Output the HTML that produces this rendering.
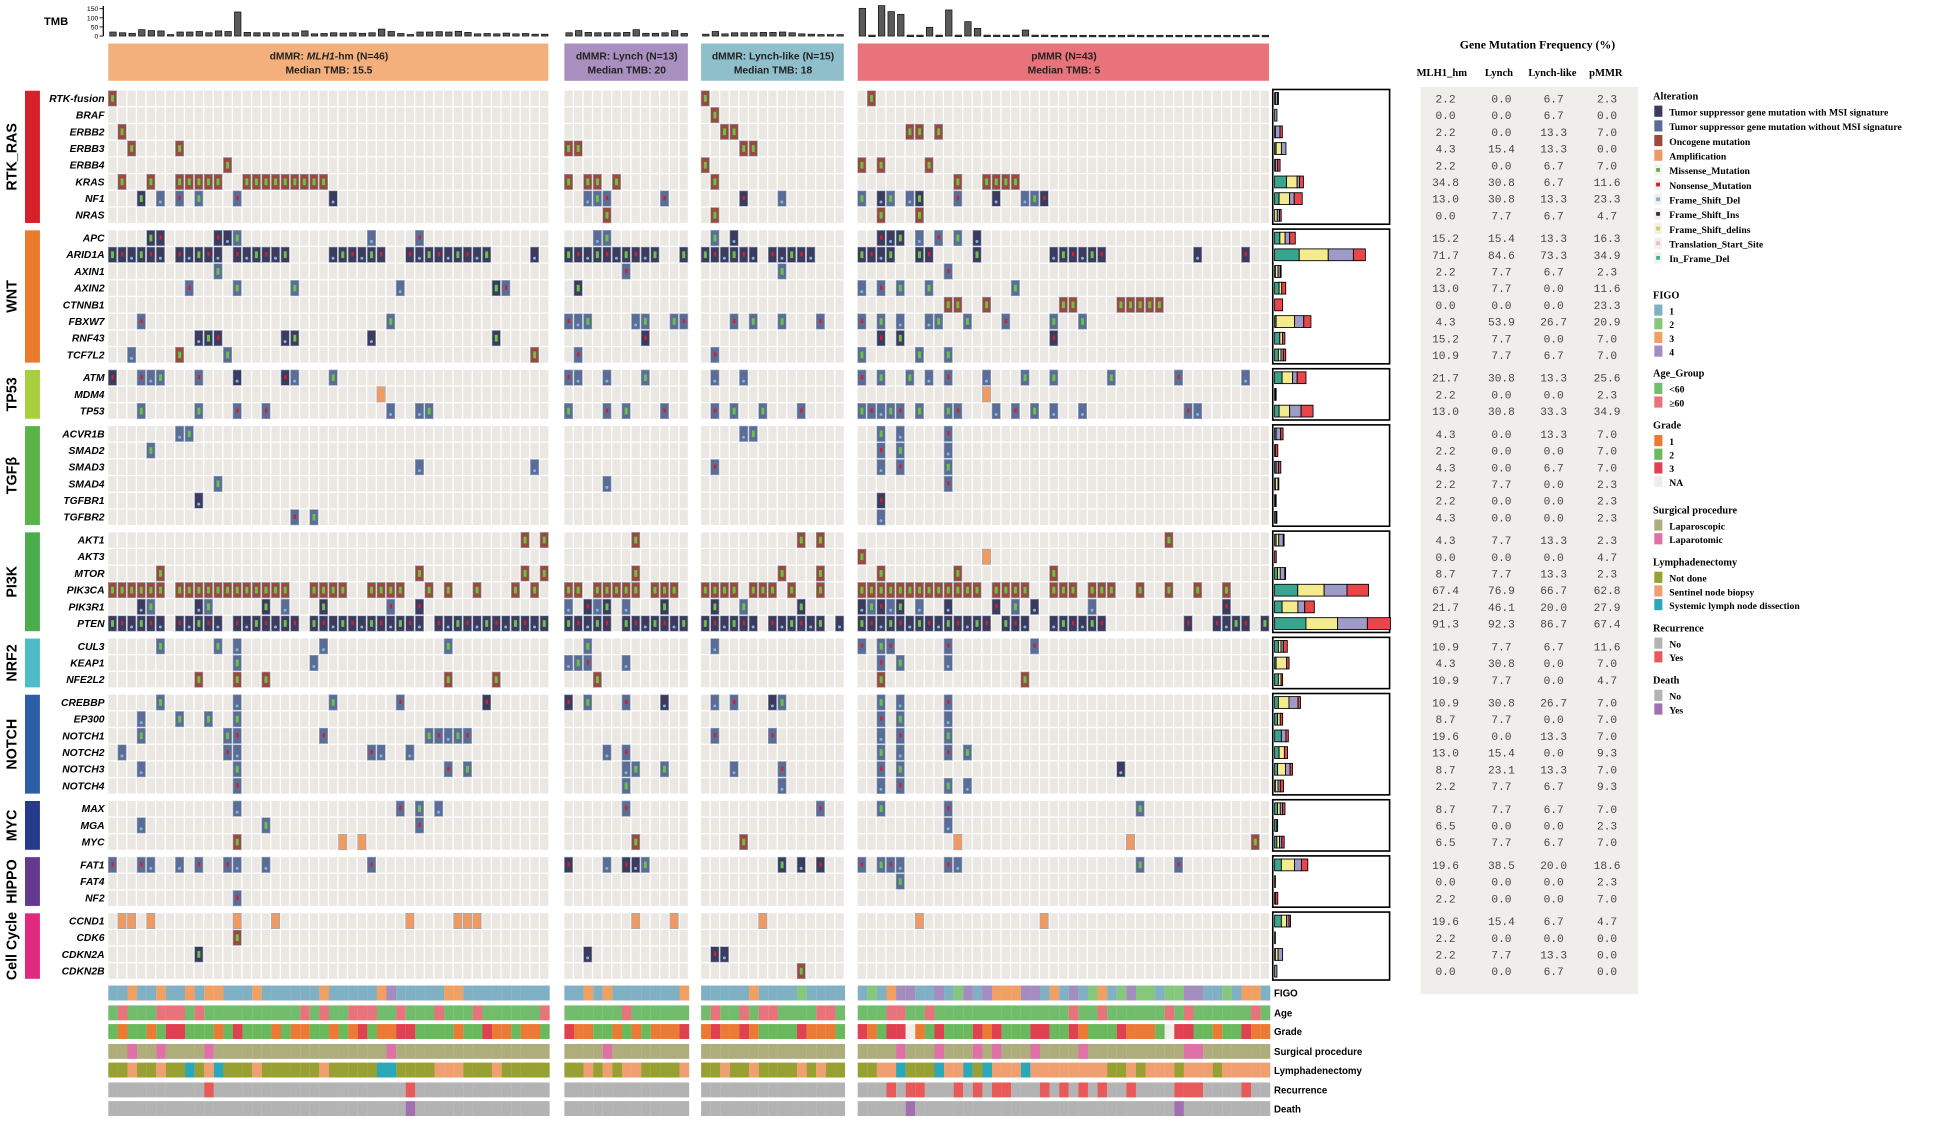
<!DOCTYPE html>
<html><head><meta charset="utf-8"><style>
html,body{margin:0;padding:0;background:#fff;}
svg{display:block;}
text{font-family:"Liberation Sans",sans-serif;}
.ser{font-family:"Liberation Serif",serif;font-weight:bold;}
.mono{font-family:"Liberation Mono",monospace;}
</style></head><body>
<svg id="chart" width="1949" height="1121" viewBox="0 0 1568 902" xmlns="http://www.w3.org/2000/svg"></svg>
<script>
// ---------- DATA ----------
const cohortNames=["dMMR: MLH1-hm (N=46)","dMMR: Lynch (N=13)","dMMR: Lynch-like (N=15)","pMMR (N=43)"];
const cohortMedians=["Median TMB: 15.5","Median TMB: 20","Median TMB: 18","Median TMB: 5"];
const cohortSizes=[46,13,15,43];
const tmbMLH1=[22,18,15,35,30,28,8,22,22,25,18,28,25,132,20,18,18,18,16,18,28,12,14,18,16,18,15,18,38,25,14,8,22,22,24,22,26,20,12,14,12,16,12,14,10,10];
const tmbLynch=[18,30,20,18,18,18,20,35,15,15,18,30,14];
const tmbLynchLike=[10,25,12,18,18,18,20,20,22,18,12,10,8,8,8];
const tmbPMMR=[152,5,167,134,119,5,5,48,5,143,5,79,42,5,5,5,5,33,5,5,4,4,4,4,4,4,4,4,5,4,4,4,4,4,4,4,4,4,4,4,4,5,4];
const tmbTicks=[0,50,100,150];
const pathwayNames=["RTK_RAS","WNT","TP53","TGFβ","PI3K","NRF2","NOTCH","MYC","HIPPO","Cell Cycle"];
const pathwaySizes=[8,8,3,6,6,3,6,3,3,4];
const genes=["RTK-fusion","BRAF","ERBB2","ERBB3","ERBB4","KRAS","NF1","NRAS","APC","ARID1A","AXIN1","AXIN2","CTNNB1","FBXW7","RNF43","TCF7L2","ATM","MDM4","TP53","ACVR1B","SMAD2","SMAD3","SMAD4","TGFBR1","TGFBR2","AKT1","AKT3","MTOR","PIK3CA","PIK3R1","PTEN","CUL3","KEAP1","NFE2L2","CREBBP","EP300","NOTCH1","NOTCH2","NOTCH3","NOTCH4","MAX","MGA","MYC","FAT1","FAT4","NF2","CCND1","CDK6","CDKN2A","CDKN2B"];
const geneTypes="oooooododdllolllladllllldlooodddlooldllllllooldlldlao".split("");
const geneDefaultTypes=["o","o","o","o","o","o","d","o","d","d","l","l","o","l","d","l","l","a","l","l","l","l","l","d","l","o","o","o","o","d","d","l","l","o","l","l","l","l","l","l","l","l","o","l","l","l","a","o","d","o"];
const mutations=[
["0","","0","1"],["","","1",""],["1","","2 3","5 6 8"],["2 7","0 1","4 5",""],["12","","0","0 2 7"],
["1 4 7-11 14-22","0 2 3 5","1","10 13-16"],
["3 5l 7l 9l 13l 23","2l 3l 4l 10l","4 8l","0l 2 3l 5l 6 10l 14 17l 18l 19"],
["","4","1","2 6"],
["4 5 11 12 13l 27l 32l","3l 4l","1l 3","2 3 4 6l 8l 10l 12"],
["0-5 7-11 13-18 23-28 31-39 44","0-9 12","0-5 7-11","0-3 6 7 12 20-25 35 40"],
["11","6","8","9"],["8 13 19 30 40d 41","1d","","0 2 4 7 16"],["","","","9 10 13 21 22 27-31"],
["3 29","0-2 7 8 11 12","3 5 8 12","0 2 4 7 8 11 15 20 23"],
["9 10 11 18 19 27 40","8","","2 4 20"],["2 7o 12 44o","1","1","0 6 9"],
["0d 3 4 5 9 13d 18d 19 23","0 1 4 8","1 4","0 2 5 7 9 13 17 20 26 33 40"],
["28","","","13"],["3 9 13 16 29 32 33","0 4 6 10","1 3 6 10","0-4 6 9 10 14 16 18 20 23 34 35"],
["7 8","","4 5","2 4 9"],["4","","","2 4 9"],["32 44","","1","2 4 9"],["11","4","","9"],["9","","","2"],["19 21","","","2"],
["43 45","7","10 12","32"],["","","","0 13a"],["5 32 43 45","7","8 12","2 10 20"],
["0-5 7-18 21-24 27-30 33 35 38 42 44","0 1 3-7 9-11","0-3 5-7 9 12","0-12 14-17 20-22 24-26 29 32 35 38"],
["3 4l 9 10l 16 18l 22 29l 32","0l 2 3l 4 6l 10","1 4l 10","0 1l 2 3l 4 6l 9 14 16l 18 24l 38"],
["0-5 7-11 13-19 21-32 34-45","0-4 6-12","0-5 7-12 14","0-13 15-17 20-25 34 37-40 42"],
["5 11 13 22 35","2","1","0 2 3 9 18"],["13 21","0 1 2 6","","2 4 9"],["9 13 16 35 40","3","","2 17"],
["5 13 23 30 39d","0d 2 6 10d","1 3 7d 8","2 4 9"],["3 7 10 13","","","2 4 9"],["3 12 13 22 33-37","","1 7","2 4 9"],
["1 12 13 27 28 31","4 6","","2 4 9 11"],["3 13 35 37","6 7 10","3 8","2 4 27d"],["13","6","8","2 4 9 11"],
["13 30 32 34","6","12","2 9 29"],["3 16 32","","","9"],["13 24a 26a","7","4","10a 28a 41"],
["0 3 4 7 9 12 13 16 27","0d 4 6d 7d 8","8d 10d 12d","0 2 3 4 9 10 29 33"],["","","","4"],["13","","",""],
["1 2 4 13 17 31 36 37 38","7 11","6","6 19"],["13","","",""],["9","2","1 2",""],["","","10",""]
];
const freqMLH1=[2.2,0.0,2.2,4.3,2.2,34.8,13.0,0.0,15.2,71.7,2.2,13.0,0.0,4.3,15.2,10.9,21.7,2.2,13.0,4.3,2.2,4.3,2.2,2.2,4.3,4.3,0.0,8.7,67.4,21.7,91.3,10.9,4.3,10.9,10.9,8.7,19.6,13.0,8.7,2.2,8.7,6.5,6.5,19.6,0.0,2.2,19.6,2.2,2.2,0.0];
const freqLynch=[0.0,0.0,0.0,15.4,0.0,30.8,30.8,7.7,15.4,84.6,7.7,7.7,0.0,53.9,7.7,7.7,30.8,0.0,30.8,0.0,0.0,0.0,7.7,0.0,0.0,7.7,0.0,7.7,76.9,46.1,92.3,7.7,30.8,7.7,30.8,7.7,0.0,15.4,23.1,7.7,7.7,0.0,7.7,38.5,0.0,0.0,15.4,0.0,7.7,0.0];
const freqLynchLike=[6.7,6.7,13.3,13.3,6.7,6.7,13.3,6.7,13.3,73.3,6.7,0.0,0.0,26.7,0.0,6.7,13.3,0.0,33.3,13.3,0.0,6.7,0.0,0.0,0.0,13.3,0.0,13.3,66.7,20.0,86.7,6.7,0.0,0.0,26.7,0.0,13.3,0.0,13.3,6.7,6.7,0.0,6.7,20.0,0.0,0.0,6.7,0.0,13.3,6.7];
const freqPMMR=[2.3,0.0,7.0,0.0,7.0,11.6,23.3,4.7,16.3,34.9,2.3,11.6,23.3,20.9,7.0,7.0,25.6,2.3,34.9,7.0,7.0,7.0,2.3,2.3,2.3,2.3,4.7,2.3,62.8,27.9,67.4,11.6,7.0,4.7,7.0,7.0,7.0,9.3,7.0,9.3,7.0,2.3,7.0,18.6,2.3,7.0,4.7,0.0,0.0,0.0];
const trackNames=["FIGO","Age","Grade","Surgical procedure","Lymphadenectomy","Recurrence","Death"];
const figoCodes=["1131131131331113111111311111341111133111111111","1131311111113","111113111121111","1213441141"+"2414333441"+"3141231242"+"2122441121"+"331"];
const ageCodes=["ny"+"nnn"+"yyy"+"n"+"y"+"nnnnnnnnnn"+"y"+"n"+"y"+"nn"+"yyy"+"nn"+"y"+"nnn"+"y"+"nnn"+"y"+"nnnnnn"+"y","nnnnnnynnnnnn","nynnynyynnnnyyn","nnnyynnynnnnnnnnnnnnnnynnynnnnnnynynnnnnnyn"];
const gradeCodes=["2122123322"+"2123222121"+"1221213211"+"3322221223"+"112112","3112212121113","131131222231112","31233N1232"+"2231322233"+"2231222311"+"12N3322122"+"311"];
const surgCodes=["LLTLLTLLLLTLLLLLLLLLLLLLLLLLLTLLLLLLLLLLLLLLLL","LLLLTLLLLLLLL","LLLLLLLLLLLLLLL","LLLLTLLLTLLLTLTLLLTLLLLTLLLLLLLLLLTTLLLLLLL"];
const lymphCodes=["NNSNNSNNDNSDNNNSNNNNNNSNNNNNDDNNNNSSSNNNSNNNNN","NNSNSNSSNNNNS","NNSNNSNNNNSNSNN","NNSSDNNNDS"+"SDNDSSSDSS"+"SSSSSSNNSN"+"SSSNSSSNSS"+"SSS"];
const recurCodes=["NNNNNNNNNNYNNNNNNNNNNNNNNNNNNNNYNNNNNNNNNNNNNN","NNNNNNNNNNNNN","NNNNNNNNNNNNNNN","NNNYNYYNNNYNYNYYNNNYNYNYNYNNYNNNNYYYNNNNYNN"];
const deathCodes=["NNNNNNNNNNNNNNNNNNNNNNNNNNNNNNNYNNNNNNNNNNNNNN","NNNNNNNNNNNNN","NNNNNNNNNNNNNNN","NNNNNYNNNNNNNNNNNNNNNNNNNNNNNNNNNYNNNNNNNNN"];

// ---------- LAYOUT ----------
const svg=document.getElementById('chart');
const NS="http://www.w3.org/2000/svg";
function mk(tag,attrs,parent){const e=document.createElementNS(NS,tag);for(const k in attrs)e.setAttribute(k,attrs[k]);(parent||svg).appendChild(e);return e;}
const cohortX0=[87,454,564,690];
const cellW=7.72, cellH=12.4;
const cohortColors=["#f4b07c","#a88fbf","#8fbfca","#e8737b"];
const pathColors=["#d8202a","#ea7a2c","#a8cf3c","#59b448","#49ad4c","#4ebcc6","#2a5fa8","#263a8c","#643a8e","#e0297f"];
const typeColors={d:"#3c3b5e",l:"#5b6c96",o:"#9a4a3c",a:"#ee9a62"};
function sx(c,i){return cohortX0[c]+i*cellW;}
const geneGroup=[],geneRow=[];
{let r=0;pathwaySizes.forEach((n,g)=>{for(let k=0;k<n;k++){geneGroup.push(g);geneRow.push(r++);}});}
function gy(gi){return 73+geneRow[gi]*13.43+geneGroup[gi]*4.9;}
function tmbY(v){return 29-v*22/150;}
const tmbAll=[tmbMLH1,tmbLynch,tmbLynchLike,tmbPMMR];

// TMB axis
const ax=mk('g',{});

mk('line',{x1:83,y1:tmbY(165),x2:83,y2:tmbY(0),stroke:'#000','stroke-width':1},ax);
tmbTicks.forEach(t=>{mk('line',{x1:80,y1:tmbY(t),x2:83,y2:tmbY(t),stroke:'#000','stroke-width':0.7},ax);
 const tx=mk('text',{x:79,y:tmbY(t)+2,'font-size':5.5,'text-anchor':'end'},ax);tx.textContent=t;});
const tl=mk('text',{x:45,y:20,'font-size':9,'font-weight':'bold','text-anchor':'middle'});tl.textContent='TMB';

tmbAll.forEach((arr,c)=>arr.forEach((v,i)=>{
 const b=mk('rect',{x:sx(c,i)+1.2,y:tmbY(v),width:5.2,height:Math.max(1.2,tmbY(0)-tmbY(v)),fill:'#5a5a5a',stroke:'#111','stroke-width':0.6});
 
}));

// cohort headers
cohortSizes.forEach((n,c)=>{
 const g=mk('g',{});
 mk('rect',{x:sx(c,0),y:35,width:n*cellW-1,height:30,fill:cohortColors[c]},g);
 const cx=sx(c,0)+n*cellW/2;
 const t1=mk('text',{x:cx,y:48,'font-size':8.3,'font-weight':'bold','text-anchor':'middle',fill:'#222'},g);
 if(c===0){t1.innerHTML='dMMR: <tspan font-style="italic">MLH1</tspan>-hm (N=46)';}else t1.textContent=cohortNames[c];
 const t2=mk('text',{x:cx,y:59,'font-size':8.3,'font-weight':'bold','text-anchor':'middle',fill:'#222'},g);t2.textContent=cohortMedians[c];
});

// pathway bars and labels
{let r=0;pathwaySizes.forEach((n,g)=>{
 const gi0=r, gi1=r+n-1; r+=n;
 const y0=gy(gi0), y1=gy(gi1)+cellH;
 const b=mk('rect',{x:20,y:y0,width:12,height:y1-y0,fill:pathColors[g]});
 
 const t=mk('text',{x:0,y:0,'font-size':11.5,'font-weight':'bold','text-anchor':'middle',transform:`translate(13,${(y0+y1)/2}) rotate(-90)`});
 t.textContent=pathwayNames[g];
 
 // right frequency box
 const bx=mk('rect',{x:1024,y:y0-1,width:94,height:y1-y0+2,fill:'none',stroke:'#000','stroke-width':1.3});
 
});}

// grid + mutations
function parseTokens(s,def){const out=[];s.trim().split(/\s+/).forEach(tok=>{if(!tok)return;const m=tok.match(/^(\d+)(?:-(\d+))?([a-z]?)$/);if(!m)return;const a=+m[1],b=m[2]?+m[2]:a;for(let i=a;i<=b;i++)out.push([i,m[3]||def]);});return out;}
genes.forEach((gname,gi)=>{
 const y=gy(gi);
 const lab=mk('text',{x:84,y:y+9,'font-size':8.3,'font-weight':'bold','font-style':'italic','text-anchor':'end'});
 lab.textContent=gname;
 
 cohortSizes.forEach((n,c)=>{for(let i=0;i<n;i++){mk('rect',{x:sx(c,i),y:y,width:cellW-1,height:cellH,fill:'#ebe8e3'});}});
 mutations[gi].forEach((s,c)=>{
  parseTokens(s,geneDefaultTypes[gi]).forEach(([i,t],k)=>{
   const x=sx(c,i);
   const r=mk('rect',{x:x,y:y,width:cellW-1,height:cellH,fill:typeColors[t],stroke:'#9aa9bb','stroke-width':0.5});
   
   if(t==='o'){mk('rect',{x:x+2.2,y:y+3.5,width:2.4,height:5.4,fill:'#6cc04a'});}
   else if(t!=='a'){const v=(gi+i)%3;
    if(v===0)mk('rect',{x:x+2.2,y:y+3.5,width:2.4,height:5.4,fill:'#6cc04a'});
    else if(v===1)mk('rect',{x:x+2.6,y:y+4,width:1.8,height:3.5,fill:'#d0202e'});
    else mk('circle',{cx:x+3.3,cy:y+9,r:1.2,fill:'#7fb6e0'});}
  });
 });
 // frequency stacked bars
 const fr=[freqMLH1[gi],freqLynch[gi],freqLynchLike[gi],freqPMMR[gi]];
 const fc=["#3aa58e","#f4ea8e","#9f9bc9","#e8474a"];
 let x=1025.5;
 fr.forEach((f,k)=>{if(f<=0)return;const w=f*0.276;
  const br=mk('rect',{x:x,y:y+1.5,width:w,height:9.5,fill:fc[k],stroke:'#000','stroke-width':0.7});
  x+=w;});
 // table values
 const cols=[1163,1208,1250,1293];
 fr.forEach((f,k)=>{const t=mk('text',{x:cols[k],y:y+9.5,'font-size':9,'text-anchor':'middle',fill:'#444',class:'mono'});t.textContent=f.toFixed(1);});
});

// table background (insert early)
const tbg=document.createElementNS(NS,'rect');
[['x',1143],['y',70],['width',175],['height',730],['fill','#efeeea']].forEach(([k,v])=>tbg.setAttribute(k,v));

svg.insertBefore(tbg,svg.firstChild);
{const t=mk('text',{x:1237,y:39,'font-size':9.5,'text-anchor':'middle',class:'ser'});t.textContent='Gene Mutation Frequency (%)';
 
 [["MLH1_hm",1160],["Lynch",1206],["Lynch-like",1249],["pMMR",1292]].forEach(([s,x])=>{const h=mk('text',{x:x,y:61,'font-size':8.5,'text-anchor':'middle',class:'ser'});h.textContent=s;
 });}

// annotation tracks
const trackData=[figoCodes,ageCodes,gradeCodes,surgCodes,lymphCodes,recurCodes,deathCodes];
const trackColors=[
 {"1":"#7fb0c4","2":"#86c77c","3":"#f0a062","4":"#a48cc0"},
 {n:"#72bd6c",y:"#e8737a"},
 {"1":"#ec7a35","2":"#6ab95c","3":"#e04050","N":"#f0eeea"},
 {L:"#b0ad7c",T:"#e070a8"},
 {N:"#97a030",S:"#f0a070",D:"#2aa8b8"},
 {N:"#b3b3b3",Y:"#e85a5a"},
 {N:"#b3b3b3",Y:"#a070b0"}];
const trackY=[793,809,824,840,855,871,886];
trackData.forEach((codes,t)=>{
 codes.forEach((str,c)=>{for(let i=0;i<cohortSizes[c];i++){const ch=str[i]||Object.keys(trackColors[t])[0];
  const r=mk('rect',{x:sx(c,i),y:trackY[t],width:cellW+0.05,height:12,fill:trackColors[t][ch]||'#ccc'});
  }});
 const l=mk('text',{x:1025,y:trackY[t]+9,'font-size':7.8,'font-weight':'bold'});l.textContent=trackNames[t];
 
});

// legend
const legend=[
 ["Alteration",77,[["#3c3b5e","Tumor suppressor gene mutation with MSI signature"],["#5b6c96","Tumor suppressor gene mutation without MSI signature"],["#9a4a3c","Oncogene mutation"],["#ee9a62","Amplification"],["#5cae4c","Missense_Mutation",1],["#c0202a","Nonsense_Mutation",1],["#7fb0d8","Frame_Shift_Del",1],["#3c2040","Frame_Shift_Ins",1],["#d8d040","Frame_Shift_delins",1],["#f0b8c8","Translation_Start_Site",1],["#3ab090","In_Frame_Del",1]],11.8],
 ["FIGO",237,[["#7fb0c4","1"],["#86c77c","2"],["#f0a062","3"],["#a48cc0","4"]],11],
 ["Age_Group",300,[["#72bd6c","<60"],["#e8737a","≥60"]],11],
 ["Grade",342,[["#ec7a35","1"],["#6ab95c","2"],["#e04050","3"],["#efede8","NA"]],11],
 ["Surgical procedure",410,[["#b0ad7c","Laparoscopic"],["#e070a8","Laparotomic"]],11],
 ["Lymphadenectomy",452,[["#97a030","Not done"],["#f0a070","Sentinel node biopsy"],["#2aa8b8","Systemic lymph node dissection"]],11],
 ["Recurrence",505,[["#b3b3b3","No"],["#e85a5a","Yes"]],11],
 ["Death",547,[["#b3b3b3","No"],["#a070b0","Yes"]],11]];
legend.forEach(([title,y0,items,sp])=>{
 const g=mk('g',{});
 const t=mk('text',{x:1330,y:y0+3,'font-size':8.3,class:'ser'},g);t.textContent=title;
 items.forEach(([col,lab,small],k)=>{const yy=y0+16+k*sp;
  if(small){mk('rect',{x:1331,y:yy-8,width:6,height:9,fill:'#f1f0ec'},g);mk('rect',{x:1332.5,y:yy-5,width:3,height:3,fill:col},g);}
  else mk('rect',{x:1331,y:yy-8,width:6.5,height:9,fill:col},g);
  const e=mk('text',{x:1343,y:yy,'font-size':7.8,class:'ser'},g);e.textContent=lab;
  });
});
</script>
</body></html>
